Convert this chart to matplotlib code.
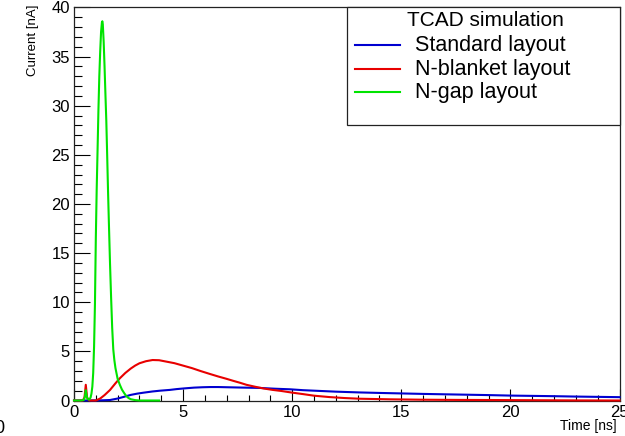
import matplotlib
matplotlib.use("Agg")
import matplotlib.pyplot as plt
from matplotlib.lines import Line2D
from matplotlib.patches import Rectangle
from matplotlib.ticker import MultipleLocator

plt.rcParams['font.family'] = ['Liberation Sans', 'DejaVu Sans']

# ---------------- data ----------------
series_names = ["Standard layout", "N-blanket layout", "N-gap layout"]
legend_header = "TCAD simulation"
x_title = "Time [ns]"
y_title = "Current [nA]"

blue_t = [0, 0.5, 1.0, 1.3, 1.65, 2.0, 2.3, 2.6, 2.9, 3.2, 3.6, 3.95, 4.4, 4.7, 5.1,
          5.5, 5.9, 6.25, 6.6, 7.0, 7.6, 8.5, 9.2, 9.9, 10.5, 11.0, 12.0, 13.1, 14.0, 15.0,
          16, 17, 18, 19, 20, 21, 22, 23, 24, 25]
blue_v = [0, 0, 0.01, 0.02, 0.05, 0.2, 0.38, 0.57, 0.7, 0.8, 0.92, 1.0, 1.08, 1.16, 1.24,
          1.31, 1.35, 1.37, 1.37, 1.35, 1.32, 1.28, 1.2, 1.14, 1.05, 1.0, 0.9, 0.82, 0.77, 0.72,
          0.67, 0.63, 0.59, 0.55, 0.5, 0.47, 0.44, 0.4, 0.37, 0.34]

red_t = [0, 0.4, 0.48, 0.54, 0.6, 0.7, 1.0, 1.2, 1.4, 1.65, 1.9, 2.1, 2.35, 2.6, 2.8,
         3.0, 3.3, 3.6, 3.9, 4.25, 4.6, 5.0, 5.4, 5.8, 6.2, 6.6, 7.0, 7.3, 7.6, 7.9,
         8.3, 8.7, 9.1, 9.5, 10.0, 10.5, 11.0, 11.7, 12.4, 13.1, 14.5, 16.0, 17.5, 19.0, 21.0,
         23.0, 25.0]
red_v = [0, 0, 0.3, 1.6, 0.3, 0, 0, 0.2, 0.55, 1.07, 1.75, 2.26, 2.8, 3.25, 3.55,
         3.79, 4.0, 4.12, 4.1, 3.95, 3.8, 3.55, 3.3, 3.0, 2.72, 2.45, 2.2, 2.0, 1.81, 1.6,
         1.4, 1.22, 1.08, 0.97, 0.8, 0.65, 0.49, 0.35, 0.25, 0.18, 0.12, 0.08, 0.06, 0.05, 0.03,
         0.01, 0]

green_t = [0, 0.3, 0.45, 0.5, 0.54, 0.58, 0.62, 0.7, 0.76, 0.8, 0.84, 0.88, 0.92, 0.96, 1.0,
           1.04, 1.08, 1.12, 1.16, 1.2, 1.24, 1.28, 1.30, 1.32, 1.36, 1.40, 1.44, 1.48, 1.52, 1.56,
           1.60, 1.65, 1.70, 1.75, 1.80, 1.85, 1.90, 2.0, 2.1, 2.2, 2.3, 2.4, 2.5, 2.6, 2.8,
           3.0, 3.9]
green_v = [0, 0, 0.05, 0.4, 1.05, 0.5, 0.15, 0.1, 0.3, 0.7, 1.4, 2.8, 5.5, 9.8, 16.5,
           21.5, 25.5, 29.6, 33, 35.5, 37.5, 38.5, 38.6, 38.3, 36.5, 34, 31.2, 28.5, 25, 21.3,
           18, 14, 10.5, 7.4, 5.2, 4.1, 3.3, 2.2, 1.6, 1.1, 0.75, 0.45, 0.25, 0.13, 0.04,
           0, 0]

colors = ['#0000d0', '#e80000', '#00e400']

# ---------------- figure ----------------
W, H = 625, 436
fig = plt.figure(figsize=(W / 100, H / 100), dpi=100)

def fx(px):
    return px / W

def fy(py):
    return 1 - py / H

x0, x1 = 74, 619.5
y0, y1 = 400.5, 7.5
ax = fig.add_axes([fx(x0), fy(y0), (x1 - x0) / W, (y0 - y1) / H])

for t, v, c in zip([blue_t, red_t, green_t], [blue_v, red_v, green_v], colors):
    ax.plot(t, v, color=c, lw=1.5, clip_on=False, zorder=3)

ax.set_xlim(0, 25)
ax.set_ylim(0, 40)
ax.xaxis.set_major_locator(MultipleLocator(5))
ax.xaxis.set_minor_locator(MultipleLocator(1))
ax.yaxis.set_major_locator(MultipleLocator(5))
ax.yaxis.set_minor_locator(MultipleLocator(1))
ax.tick_params(axis='x', which='major', direction='in', length=8.6, width=0.8, labelsize=12, pad=3)
ax.tick_params(axis='x', which='minor', direction='in', length=4.3, width=0.8)
ax.tick_params(axis='y', which='major', direction='in', length=11.5, width=0.8, labelsize=12, pad=3)
ax.tick_params(axis='y', which='minor', direction='in', length=5.8, width=0.8)
for s in ax.spines.values():
    s.set_linewidth(0.9)
    s.set_color('#222222')

# axis titles
fig.text(fx(33), fy(5), y_title, rotation=90, ha='center', va='top', fontsize=9.5)
fig.text(fx(617), fy(426), x_title, ha='right', va='center', fontsize=10)

# partially visible character at lower-left corner (as in the reference)
fig.text(fx(-6), fy(428), "0", ha='left', va='center', fontsize=13)

# legend box
lx0, ly0, lx1, ly1 = 347, 7.5, 619.5, 125
fig.patches.append(Rectangle((fx(lx0), fy(ly1)), (lx1 - lx0) / W, (ly1 - ly0) / H,
                             transform=fig.transFigure, facecolor='white',
                             edgecolor='#222222', lw=0.9, zorder=5))
fig.text(fx(485), fy(21), legend_header, ha='center', va='center', fontsize=15, zorder=6)
entry_y = [45.5, 69, 92]
for name, c, yy in zip(series_names, colors, entry_y):
    fig.lines.append(Line2D([fx(355), fx(400)], [fy(yy), fy(yy)], transform=fig.transFigure,
                            color=c, lw=1.5, zorder=6))
    fig.text(fx(415), fy(yy), name, ha='left', va='center', fontsize=15.5, zorder=6)

fig.savefig("out.png", dpi=100)
